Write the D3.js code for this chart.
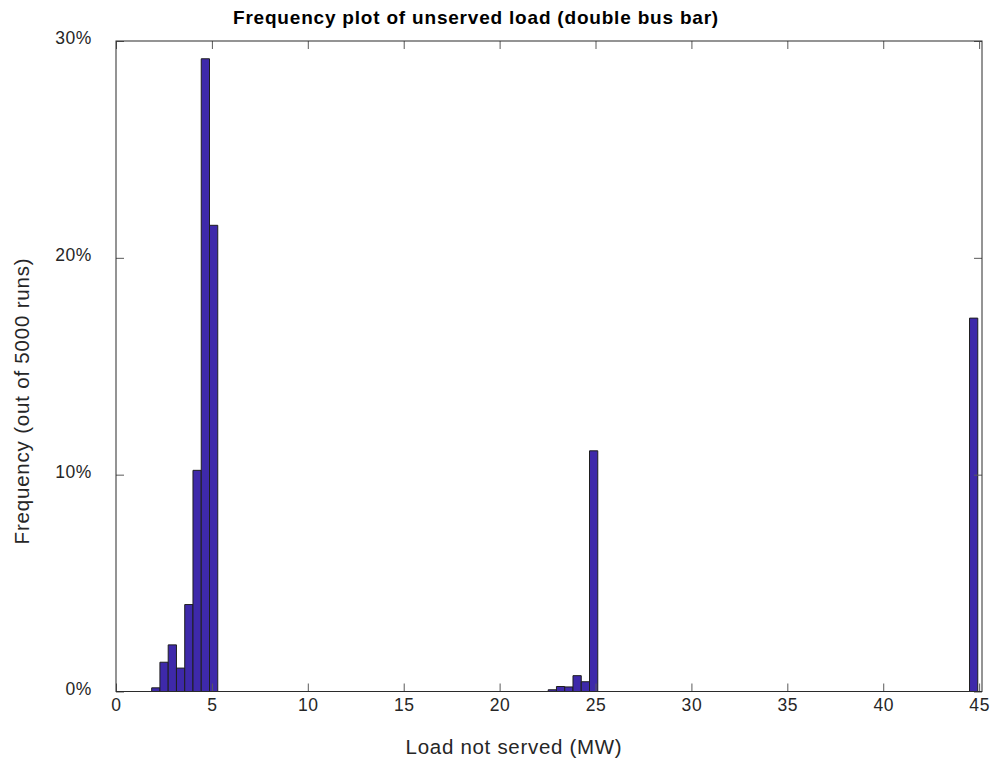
<!DOCTYPE html>
<html>
<head>
<meta charset="utf-8">
<script src="https://cdn.jsdelivr.net/npm/d3@7"></script>
<style>
  body { margin: 0; background: #fff; }
  svg { display: block; }
  text { font-family: "Liberation Sans", Arial, sans-serif; }
</style>
</head>
<body>
<div id="chart"></div>
<script>
// histogram bins (MW)
const binStart = 1.86;
const binWidth = 0.4307;
const binCount = 100;
// non-empty bins and their frequency (% of 5000 runs)
const binIndex = [0, 1, 2, 3, 4, 5, 6, 7, 48, 49, 50, 51, 52, 53, 99];
const freqPct  = [0.17, 1.35, 2.15, 1.08, 4.01, 10.2, 29.18, 21.5, 0.08, 0.23, 0.21, 0.73, 0.45, 11.1, 17.22];
const xTicks = [0, 5, 10, 15, 20, 25, 30, 35, 40, 45];
const yTicks = [0, 10, 20, 30];

const width = 994, height = 763;
const margin = { top: 41, right: 12, bottom: 71.5, left: 116 };

const svg = d3.select("#chart").append("svg")
    .attr("width", width)
    .attr("height", height);

const xScale = d3.scaleLinear()
    .domain([0, 45.15])
    .range([margin.left, width - margin.right]);

const yScale = d3.scaleLinear()
    .domain([0, 30])
    .range([height - margin.bottom, margin.top]);

const freqByBin = new Map(binIndex.map((b, i) => [b, freqPct[i]]));
const bins = d3.range(binCount).map(k => ({
    x0: binStart + k * binWidth,
    x1: binStart + (k + 1) * binWidth,
    f: freqByBin.get(k) || 0
}));

// bars (empty bins show as a flat edge on the baseline)
svg.append("g")
   .selectAll("path")
   .data(bins)
   .enter()
   .append("path")
   .attr("d", d => {
       const x0 = xScale(d.x0), x1 = xScale(d.x1), y0 = yScale(0), y1 = yScale(d.f);
       return `M${x0},${y0}V${y1}H${x1}V${y0}` + (d.f > 0 ? "Z" : "");
   })
   .attr("fill", d => d.f > 0 ? "#3e29aa" : "none")
   .attr("stroke", "#1f1f1f")
   .attr("stroke-width", 1);

// ticks inside the box, on all four sides
const tickLen = 8;
svg.append("g")
   .attr("transform", `translate(0,${yScale(0)})`)
   .call(d3.axisBottom(xScale).tickValues(xTicks).tickSizeInner(-tickLen).tickSizeOuter(0).tickPadding(7));
svg.append("g")
   .attr("transform", `translate(0,${margin.top})`)
   .call(d3.axisTop(xScale).tickValues(xTicks).tickSizeInner(-tickLen).tickSizeOuter(0).tickFormat(""));
const yAxis = svg.append("g")
   .attr("transform", `translate(${margin.left},0)`)
   .call(d3.axisLeft(yScale).tickValues(yTicks).tickSizeInner(-tickLen).tickSizeOuter(0).tickPadding(24).tickFormat(d => d + "%"));
svg.append("g")
   .attr("transform", `translate(${width - margin.right},0)`)
   .call(d3.axisRight(yScale).tickValues(yTicks).tickSizeInner(-tickLen).tickSizeOuter(0).tickFormat(""));

svg.selectAll(".domain").remove();
svg.selectAll(".tick line").attr("stroke", "#5a5a5a");
svg.selectAll(".tick text")
   .attr("font-size", "17.5px")
   .attr("letter-spacing", "0.6px")
   .attr("fill", "#262626");
yAxis.selectAll(".tick text").attr("dy", "0.15em");

// box
svg.append("rect")
   .attr("x", margin.left)
   .attr("y", margin.top)
   .attr("width", width - margin.right - margin.left)
   .attr("height", yScale(0) - margin.top)
   .attr("fill", "none")
   .attr("stroke", "#2b2b2b")
   .attr("stroke-width", 1);

svg.append("text")
   .attr("x", 476)
   .attr("y", 24)
   .attr("text-anchor", "middle")
   .attr("font-size", "19px")
   .attr("letter-spacing", "0.8px")
   .attr("font-weight", "bold")
   .attr("fill", "#000")
   .text("Frequency plot of unserved load (double bus bar)");

svg.append("text")
   .attr("x", 514)
   .attr("y", 754)
   .attr("text-anchor", "middle")
   .attr("font-size", "20.5px")
   .attr("letter-spacing", "0.7px")
   .attr("fill", "#262626")
   .text("Load not served (MW)");

svg.append("text")
   .attr("transform", "translate(29,401) rotate(-90)")
   .attr("text-anchor", "middle")
   .attr("font-size", "20.5px")
   .attr("letter-spacing", "0.8px")
   .attr("fill", "#262626")
   .text("Frequency (out of 5000 runs)");
</script>
</body>
</html>
